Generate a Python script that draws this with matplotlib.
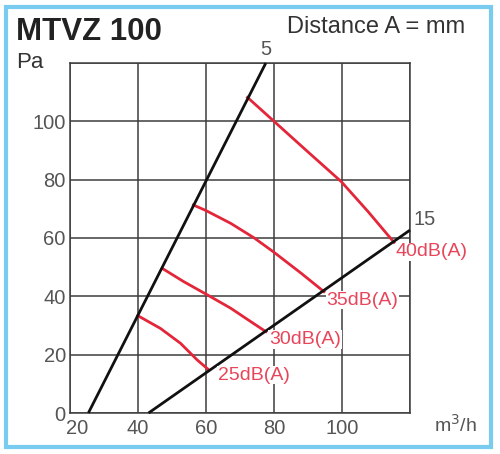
import matplotlib
matplotlib.use("Agg")
import matplotlib.pyplot as plt
from matplotlib.patches import Rectangle
from matplotlib.transforms import ScaledTranslation

# ---- data ----
x_ticks = [20, 40, 60, 80, 100]
y_ticks = [0, 20, 40, 60, 80, 100]

line5_x = [25.4, 77.6]
line5_y = [0, 120]
line15_x = [43.1, 120]
line15_y = [0, 62.7]

db25_x = [39.9, 46.6, 52.5, 57.4, 60.9]
db25_y = [33.4, 29.0, 23.9, 18.2, 14.7]
db30_x = [47.1, 53.5, 60.4, 67.3, 73.2, 77.6]
db30_y = [49.6, 45.0, 40.5, 35.9, 31.3, 27.9]
db35_x = [56.3, 60, 67.3, 74.2, 80, 88.0, 94.7]
db35_y = [71.3, 69.4, 65.0, 60.0, 55.1, 47.9, 41.6]
db40_x = [72.2, 80.1, 89.9, 99.8, 107.7, 115.3]
db40_y = [108.2, 99.9, 89.6, 79.3, 69.0, 58.5]

db_labels = ["25dB(A)", "30dB(A)", "35dB(A)", "40dB(A)"]
db_label_x = [63.4, 78.5, 95.4, 115.8]
db_label_y = [13.0, 25.2, 38.7, 55.2]

RED = "#e3263a"
RED_TXT = "#e8455a"
GRID = "#3d3d3d"
TICK = "#555555"

plt.rcParams['font.family'] = ['Liberation Sans', 'DejaVu Sans']

fig = plt.figure(figsize=(5.0, 4.54), dpi=100)
ax = fig.add_axes([0.14, 0.0903, 0.68, 0.771])
ax.set_xlim(20, 120)
ax.set_ylim(0, 120)

ax.set_xticks([20, 40, 60, 80, 100, 120])
ax.set_yticks([0, 20, 40, 60, 80, 100, 120])
ax.grid(True, color=GRID, linewidth=1.1)
ax.set_xticklabels([str(v) for v in x_ticks] + [""])
ax.set_yticklabels([str(v) for v in y_ticks] + [""])
ax.tick_params(length=0, labelsize=14.5, labelcolor=TICK)
ax.tick_params(axis='x', pad=4)
ax.tick_params(axis='y', pad=3)
for s in ax.spines.values():
    s.set_color(GRID)
    s.set_linewidth(1.1)
ax.set_axisbelow(True)

# shift the "20" x label to the right
lbl20 = ax.get_xticklabels()[0]
lbl20.set_transform(lbl20.get_transform() + ScaledTranslation(7/100, 0, fig.dpi_scale_trans))

# black lines
ax.plot(line5_x, line5_y, color="#111111", lw=2.0, solid_capstyle='butt', clip_on=False, zorder=3)
ax.plot(line15_x, line15_y, color="#111111", lw=2.0, solid_capstyle='butt', clip_on=False, zorder=3)
ax.text(line5_x[1], 121.5, "5", ha="center", va="bottom", fontsize=14.5, color=TICK)
ax.text(121, line15_y[1] + 0.5, "15", ha="left", va="bottom", fontsize=14.5, color=TICK, clip_on=False)

# red dB curves
for xs, ys in [(db25_x, db25_y), (db30_x, db30_y), (db35_x, db35_y), (db40_x, db40_y)]:
    ax.plot(xs, ys, color=RED, lw=2.0, zorder=2, solid_joinstyle='round')

for t, tx, ty in zip(db_labels, db_label_x, db_label_y):
    ax.text(tx, ty, t, ha="left", va="center", fontsize=14, color=RED_TXT, zorder=4,
            clip_on=False,
            bbox=dict(facecolor="white", edgecolor="none", pad=0.5))

# texts
fig.text(16/500, 1 - 40/454, "MTVZ 100", fontsize=22.5, fontweight="bold", color="#222222",
         ha="left", va="baseline")
fig.text(16/500, 1 - 68/454, "Pa", fontsize=16, color="#333333", ha="left", va="baseline")
fig.text(465/500, 1 - 33/454, "Distance A = mm", fontsize=17, color="#333333",
         ha="right", va="baseline")
fig.text(477/500, 1 - 432/454, "m$^3$/h", fontsize=14, color=TICK, ha="right", va="baseline")

# border
fig.add_artist(Rectangle((5.5/500, 1 - 447/454), 485/500, 440/454, transform=fig.transFigure,
                         fill=False, edgecolor="#79ccef", linewidth=3))

fig.savefig("out.png", dpi=100)
